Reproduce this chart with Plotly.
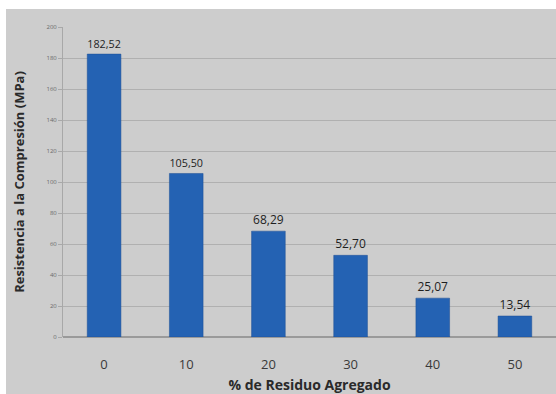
import plotly.graph_objects as go

residuo = ["0", "10", "20", "30", "40", "50"]
resistencia = [182.52, 105.50, 68.29, 52.70, 25.07, 13.54]
y_ticks = [0, 20, 40, 60, 80, 100, 120, 140, 160, 180, 200]

W, H = 556, 394
ml, mr, mt, mb = 63, 0, 27, 57
pw, ph = W - ml - mr, H - mt - mb

fig = go.Figure(
    go.Bar(
        x=residuo,
        y=resistencia,
        marker=dict(color="#2462b3", line=dict(color="#1d4f94", width=0.5)),
        width=0.41,
        texttemplate="%{y:.2f}",
        textposition="outside",
        textfont=dict(family="Open Sans, Liberation Sans", size=12, color="#1e1e1e"),
        cliponaxis=False,
    )
)

# grey chart area sitting on a white page
fig.add_shape(
    type="rect", xref="paper", yref="paper", layer="below",
    x0=(6 - ml) / pw, x1=1.0 + mr / pw,
    y0=-mb / ph, y1=(H - mb - 9) / ph,
    fillcolor="#cdcdcd", line=dict(width=0),
)

fig.update_layout(
    width=W, height=H,
    margin=dict(l=ml, r=mr, t=mt, b=mb),
    paper_bgcolor="white",
    plot_bgcolor="#d3d3d3",
    separators=",.",
    showlegend=False,
    font=dict(family="Open Sans, Liberation Sans", color="#333"),
    xaxis=dict(
        type="category",
        showgrid=False,
        showline=False,
        ticks="",
        ticklabelstandoff=18,
        tickfont=dict(size=13, color="#3a3a3a"),
        title=dict(text="<b>% de Residuo Agregado</b>", font=dict(size=14, color="#2a2a2a"), standoff=12),
    ),
    yaxis=dict(
        range=[0, 200],
        tickvals=y_ticks,
        showgrid=True,
        gridcolor="#b0b0b0",
        gridwidth=1,
        zeroline=True,
        zerolinecolor="#9a9a9a",
        showline=True,
        linecolor="#a8a8a8",
        ticks="outside",
        ticklen=4,
        tickcolor="#a8a8a8",
        tickfont=dict(size=6, color="#6a6a6a"),
        title=dict(text="<b>Resistencia a la Compresión (MPa)</b>", font=dict(size=13, color="#2a2a2a"), standoff=18),
    ),
)

fig.write_html("out.html")
